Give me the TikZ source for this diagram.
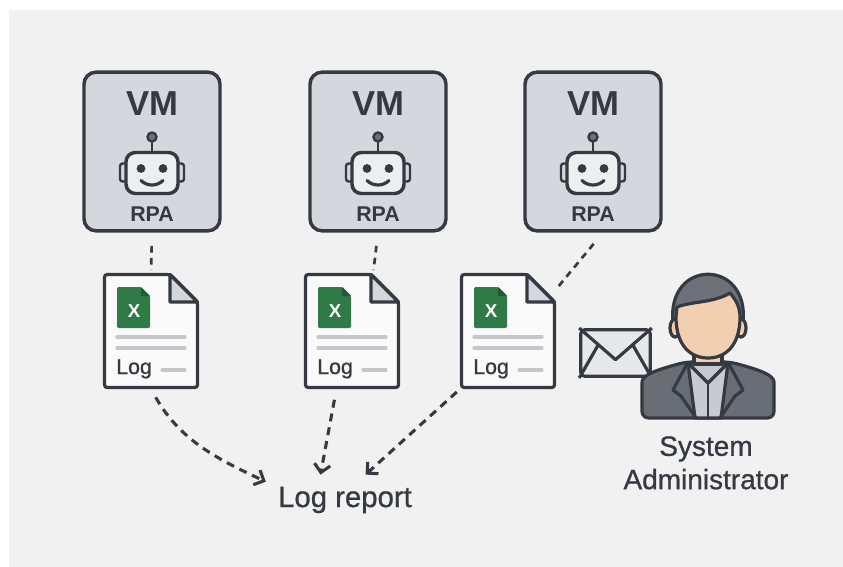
\documentclass[tikz,border=0pt]{standalone}
\usepackage{fontspec}
\setmainfont{Liberation Sans}
\newfontfamily\medium[FakeBold=0.8]{Liberation Sans}
\usetikzlibrary{arrows.meta}

\definecolor{ink}{HTML}{353A42}
\definecolor{panel}{HTML}{F1F1F1}
\definecolor{vmgray}{HTML}{D4D7DB}
\definecolor{paper}{HTML}{FAFAFA}
\definecolor{xlgreen}{HTML}{2F7A47}
\definecolor{xldark}{HTML}{1F5C33}
\definecolor{rule}{HTML}{C4C6CA}
\definecolor{envgray}{HTML}{E7E8EA}
\definecolor{suit}{HTML}{696D75}
\definecolor{hair}{HTML}{6E7179}
\definecolor{shirt}{HTML}{C7CBD1}
\definecolor{skin}{HTML}{F2CFB0}
\definecolor{botface}{HTML}{ECEEF0}

\tikzstyle{vmbox} = [draw=ink, fill=vmgray, line width=2.6pt, rounded corners=9pt, minimum width=102pt, minimum height=119pt, inner sep=0pt]
\tikzstyle{vmtitle} = [text=ink, font=\bfseries\fontsize{26}{26}\selectfont]
\tikzstyle{vmtag} = [text=ink, font=\bfseries\fontsize{16}{16}\selectfont]
\tikzstyle{docbox} = [minimum width=72pt, minimum height=87pt, inner sep=0pt]
\tikzstyle{mailbox} = [draw=ink, fill=envgray, line width=2.4pt, rounded corners=3pt, minimum width=52pt, minimum height=35pt, inner sep=0pt]
\tikzstyle{link} = [ink, line width=2pt, dash pattern=on 5pt off 4pt]
\tikzstyle{feed} = [ink, line width=2.3pt, dash pattern=on 6pt off 4.5pt, -{Straight Barb[length=6pt,width=12pt]}]

\tikzset{
  robot/.pic={
    % ears
    \draw[ink, fill=vmgray, line width=1.8pt, rounded corners=2pt] (-32,-30) rectangle (-25,-12);
    \draw[ink, fill=vmgray, line width=1.8pt, rounded corners=2pt] (25,-30) rectangle (32,-12);
    % antenna
    \draw[ink, line width=1.8pt] (0,0) -- (0,10);
    \draw[ink, fill=hair, line width=1.8pt] (0,14.5) circle (4.5);
    % head, eyes, smile
    \draw[ink, fill=botface, line width=2.6pt, rounded corners=7pt] (-26,-42) rectangle (26,-1);
    \fill[ink] (-11,-17) circle (4.4) (11,-17) circle (4.4);
    \draw[ink, line width=2.4pt, line cap=round] (-11,-29) .. controls (-5,-35) and (5,-35) .. (11,-29);
  },
  logdoc/.pic={
    % sheet with folded corner
    \draw[ink, fill=paper, line width=2.4pt, rounded corners=2pt] (-46.5,-56.5) -- (-46.5,56.5) -- (19,56.5) -- (46.5,29) -- (46.5,-56.5) -- cycle;
    \draw[ink, fill=vmgray, line width=2.4pt, line join=round] (19,56.5) -- (19,29) -- (46.5,29) -- cycle;
    % spreadsheet icon
    \fill[xlgreen, rounded corners=1pt] (-34,3) -- (-34,44) -- (-10,44) -- (-1,35) -- (-1,3) -- cycle;
    \fill[xldark] (-10,44) -- (-10,35) -- (-1,35) -- cycle;
    \node[text=white, font=\bfseries\fontsize{14}{14}\selectfont] (-x) at (-17,20) {X};
    % text lines
    \draw[rule, line width=2.4pt, line cap=round] (-34,-6) -- (34,-6) (-34,-17) -- (34,-17) (11,-39) -- (34,-39);
    \node[text=ink, anchor=base west, inner sep=0pt, font=\medium\fontsize{16}{16}\selectfont] (-word) at (-35,-43) {Log};
  }
}

\begin{document}
\begin{tikzpicture}[x=0.75pt, y=0.75pt]
    % Background
    \fill[white] (0,0) rectangle (843,-567);
    \fill[panel] (9,-10) rectangle (843,-567);

    % VM boxes with robots
    \foreach \i/\cx in {1/152, 2/378, 3/593} {
        \node[vmbox] (vm\i) at (\cx,-151.5) {};
        \node[vmtitle] (vmname\i) at (\cx,-104) {VM};
        \node[vmtag] (vmtag\i) at (\cx,-214.5) {RPA};
        \pic at (vm\i.center) {robot};
    }

    % Log files
    \foreach \i/\cx in {1/151, 2/352, 3/508} {
        \node[docbox] (log\i) at (\cx,-331) {};
        \pic (doc\i) at (log\i.center) {logdoc};
    }

    % VM -> log file
    \draw[link, shorten <=10pt, shorten >=2pt] (vm1.south) -- (log1.north);
    \draw[link, shorten <=10pt, shorten >=2pt] (vm2.south) -- (log2.70);
    \draw[link, shorten <=11pt, shorten >=2pt] (vm3.277) -- (log3.41);

    % Report
    \node[text=ink, inner sep=9pt, font=\medium\fontsize{22}{22}\selectfont] (report) at (345,-500) {Log report};
    \draw[feed, shorten <=7pt] (log1.south) to[out=-60, in=155] (report.167);
    \draw[feed, shorten <=8pt] (log2.255) -- (report.134);
    \draw[feed, shorten <=3pt] (log3.south west) -- (report.51);

    % Mail
    \node[mailbox] (mail) at (615.5,-353) {};
    \draw[ink, line width=2.4pt, line join=round] (mail.north west) -- ([yshift=-5pt]mail.center) -- (mail.north east);
    \draw[ink, line width=2.4pt] (mail.south west) -- ([shift={(-13pt,6pt)}]mail.center);
    \draw[ink, line width=2.4pt] (mail.south east) -- ([shift={(13pt,6pt)}]mail.center);

    % Administrator
    \begin{scope}[shift={(708,-345)}, ink, line width=2.4pt, line join=round]
        \draw[fill=suit, rounded corners=5pt] (-66,-73) -- (-66,-44) .. controls (-66,-30) and (-52,-25) .. (-22,-17) -- (22,-17) .. controls (52,-25) and (66,-30) .. (66,-44) -- (66,-73) -- cycle;
        \draw[fill=shirt] (-20,-18) -- (20,-18) -- (13,-73) -- (-13,-73) -- cycle;
        \draw (-21,-19) -- (-35,-45) -- (-27,-51) -- (-12,-73);
        \draw (21,-19) -- (35,-45) -- (27,-51) -- (12,-73);
        \draw[fill=skin] (-14,-19) rectangle (14,0);
        \draw (-20,-18) -- (0,-38) -- (20,-18);
        \draw[line width=1.6pt] (0,-38) -- (0,-73);
        \draw[fill=hair] (-35,22) .. controls (-42,87) and (42,87) .. (35,22) -- cycle;
        \draw[fill=skin] (-33,17) ellipse (5 and 9) (33,17) ellipse (5 and 9);
        \draw[fill=skin] (-31,38) .. controls (-15,44) and (5,42) .. (22,52) .. controls (28,45) and (32,38) .. (32,28) .. controls (32,0) and (18,-13) .. (0,-13) .. controls (-18,-13) and (-32,0) .. (-32,28) -- cycle;
    \end{scope}
    \node[text=ink, anchor=north, inner sep=0pt, align=center, font=\medium\fontsize{21}{25}\selectfont] (admin) at (706,-436) {System\\Administrator};
\end{tikzpicture}
\end{document}
